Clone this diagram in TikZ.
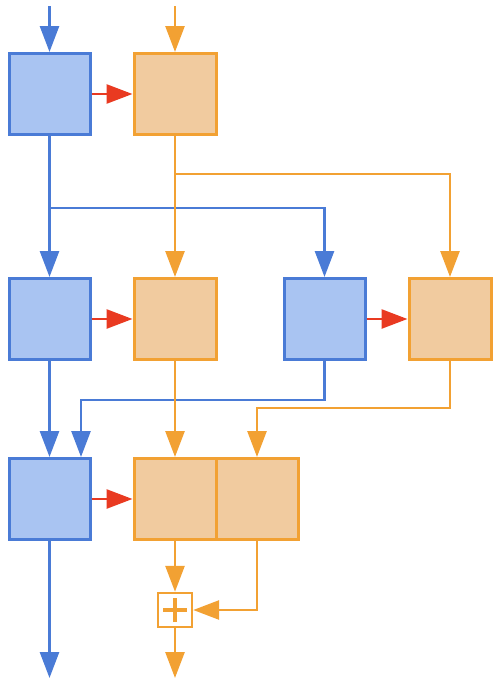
\documentclass[tikz,border=0pt]{standalone}
\usetikzlibrary{arrows.meta}
\definecolor{blueline}{RGB}{74,123,214}
\definecolor{bluefill}{RGB}{169,196,242}
\definecolor{orangeline}{RGB}{242,161,51}
\definecolor{orangefill}{RGB}{241,203,159}
\definecolor{redline}{RGB}{233,58,33}
\begin{document}
\begin{tikzpicture}[x=1pt, y=-1pt,
    tip/.style={-{Triangle[length=26pt, width=19pt]}},
    bluebox/.style={draw=blueline, fill=bluefill, line width=3pt,
      minimum width=81pt, minimum height=81pt, inner sep=0pt},
    orangebox/.style={draw=orangeline, fill=orangefill, line width=3pt,
      minimum width=82pt, minimum height=81pt, inner sep=0pt},
    bluearrow/.style={tip, draw=blueline, line width=2.7pt},
    orangearrow/.style={tip, draw=orangeline, line width=2.7pt},
    redarrow/.style={tip, draw=redline, line width=2.7pt}]
  \useasboundingbox (0,0) rectangle (501,688);

  % Inputs
  \coordinate (bin) at (49.5,6);
  \coordinate (oin) at (175,6);

  % First row
  \node[bluebox] (b1) at (49.5,94) {};
  \node[orangebox] (o1) at (175,94) {};

  % Second row
  \node[bluebox] (b2) at (49.5,319) {};
  \node[orangebox] (o2) at (175,319) {};
  \node[bluebox] (b3) at (324.5,319) {};
  \node[orangebox] (o3) at (450,319) {};

  % Third row (double box)
  \node[bluebox] (b4) at (49.5,499) {};
  \node[orangebox] (o4) at (175,499) {};
  \node[orangebox] (o5) at (257,499) {};

  % Sum
  \node[draw=orangeline, fill=white, line width=2.4pt, minimum size=34pt,
    inner sep=0pt] (plus) at (175,610) {};
  \draw[orangeline, line width=4.5pt]
    ([xshift=-12pt]plus.center) -- ([xshift=12pt]plus.center)
    ([yshift=-12pt]plus.center) -- ([yshift=12pt]plus.center);

  % Outputs and split points
  \coordinate (bout) at (49.5,678);
  \coordinate (oout) at (175,678);
  \coordinate (bsplit) at (49.5,208);
  \coordinate (osplit) at (175,174);
  \coordinate (bjoin) at (81,400);
  \coordinate (ojoin) at (257,408);

  % Input arrows
  \draw[bluearrow] (bin) -- (b1.north);
  \draw[orangearrow] (oin) -- (o1.north);

  % Blue to orange
  \draw[redarrow] (b1.east) -- (o1.west);
  \draw[redarrow] (b2.east) -- (o2.west);
  \draw[redarrow] (b3.east) -- (o3.west);
  \draw[redarrow] (b4.east) -- (o4.west);

  % Branches after first row
  \draw[bluearrow] (b1.south) -- (b2.north);
  \draw[bluearrow] (bsplit) -| (b3.north);
  \draw[orangearrow] (o1.south) -- (o2.north);
  \draw[orangearrow] (osplit) -| (o3.north);

  % Merging into third row
  \draw[bluearrow] (b2.south) -- (b4.north);
  \draw[bluearrow] (b3.south) |- (bjoin) -- (bjoin |- b4.north);
  \draw[orangearrow] (o2.south) -- (o4.north);
  \draw[orangearrow] (o3.south) |- (ojoin) -- (o5.north);

  % Sum and outputs
  \draw[orangearrow] (o4.south) -- (plus.north);
  \draw[orangearrow] (o5.south) |- (plus.east);
  \draw[orangearrow] (plus.south) -- (oout);
  \draw[bluearrow] (b4.south) -- (bout);
\end{tikzpicture}
\end{document}
